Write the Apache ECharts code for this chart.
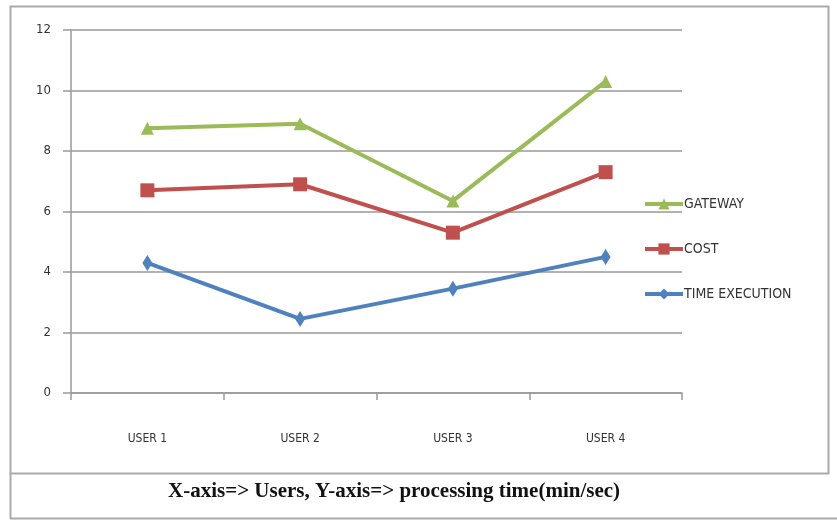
<!DOCTYPE html>
<html>
<head>
<meta charset="utf-8">
<script src="https://cdn.jsdelivr.net/npm/echarts@6/dist/echarts.min.js"></script>
<style>
html,body{margin:0;padding:0;background:#fff;}
#c{width:837px;height:520px;}
</style>
</head>
<body>
<div id="c"></div>
<script>
const categories = ['USER 1', 'USER 2', 'USER 3', 'USER 4'];
const gateway = [8.75, 8.9, 6.35, 10.3];
const cost = [6.7, 6.9, 5.3, 7.3];
const timeExecution = [4.3, 2.45, 3.45, 4.5];
const seriesNames = ['GATEWAY', 'COST', 'TIME EXECUTION'];
const caption = 'X-axis=> Users, Y-axis=> processing time(min/sec)';

const chart = echarts.init(document.getElementById('c'), null, {renderer: 'canvas'});
const narrow = '"DejaVu Sans Condensed", "Liberation Sans Narrow", sans-serif';
chart.setOption({
  animation: false,
  backgroundColor: '#fff',
  grid: {left: 71, right: 155, top: 30, bottom: 127, containLabel: false},
  legend: {
    orient: 'vertical',
    left: 638,
    top: 192,
    itemGap: 31,
    itemWidth: 38,
    itemHeight: 14,
    lineStyle: {width: 4},
    textStyle: {fontFamily: narrow, fontSize: 14, color: '#333', padding: [0, 0, 0, -4]},
    data: seriesNames
  },
  xAxis: {
    type: 'category',
    data: categories,
    boundaryGap: true,
    axisLine: {lineStyle: {color: '#999', width: 1.5}},
    axisTick: {show: true, length: 7, lineStyle: {color: '#999', width: 1.5}},
    axisLabel: {fontFamily: narrow, fontSize: 12, color: '#333', margin: 40}
  },
  yAxis: {
    type: 'value',
    min: 0, max: 12, interval: 2,
    axisLine: {show: true, lineStyle: {color: '#999', width: 1.5}},
    axisTick: {show: true, length: 8, lineStyle: {color: '#999', width: 1.5}},
    splitLine: {lineStyle: {color: '#999', width: 1.5}},
    axisLabel: {fontFamily: narrow, fontSize: 13, color: '#333', margin: 20}
  },
  series: [
    {name: seriesNames[0], type: 'line', data: gateway, symbol: 'triangle', symbolSize: 13,
     lineStyle: {color: '#9BBB59', width: 4}, itemStyle: {color: '#9BBB59'}},
    {name: seriesNames[1], type: 'line', data: cost, symbol: 'rect', symbolSize: 14,
     lineStyle: {color: '#C0504D', width: 4}, itemStyle: {color: '#C0504D'}},
    {name: seriesNames[2], type: 'line', data: timeExecution, symbol: 'diamond', symbolSize: [10, 16],
     lineStyle: {color: '#4F81BD', width: 4}, itemStyle: {color: '#4F81BD'}}
  ],
  graphic: [
    {type: 'rect', shape: {x: 10.5, y: 6.5, width: 818, height: 467}, style: {fill: null, stroke: '#aaa', lineWidth: 2}, silent: true, z: -1},
    {type: 'line', shape: {x1: 10.5, y1: 473, x2: 10.5, y2: 519}, style: {stroke: '#aaa', lineWidth: 2}, silent: true},
    {type: 'line', shape: {x1: 10, y1: 518.5, x2: 837, y2: 518.5}, style: {stroke: '#aaa', lineWidth: 2}, silent: true},
    {type: 'text', left: 168, top: 481, style: {text: caption, font: 'bold 21px "Liberation Serif", "DejaVu Serif", serif', fill: '#111'}}
  ]
});
</script>
</body>
</html>
